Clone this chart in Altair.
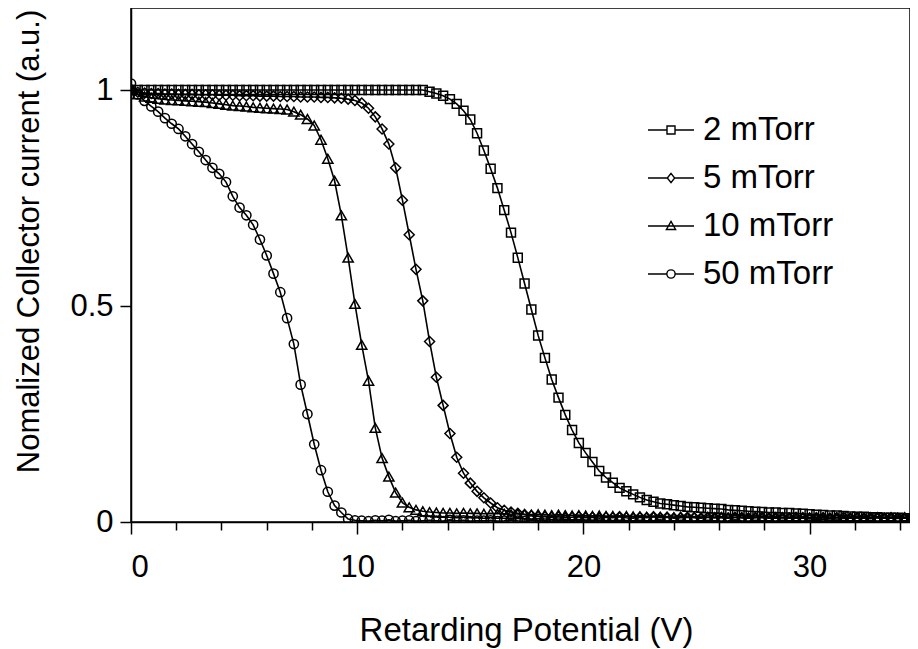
import altair as alt
import pandas as pd

# Retarding potential grid (V)
x_vals = [
    0.0, 0.3, 0.6, 0.9, 1.2, 1.5, 1.8, 2.1, 2.4, 2.7,
    3.0, 3.3, 3.6, 3.9, 4.2, 4.5, 4.8, 5.1, 5.4, 5.7,
    6.0, 6.3, 6.6, 6.9, 7.2, 7.5, 7.8, 8.1, 8.4, 8.7,
    9.0, 9.3, 9.6, 9.9, 10.2, 10.5, 10.8, 11.1, 11.4, 11.7,
    12.0, 12.3, 12.6, 12.9, 13.2, 13.5, 13.8, 14.1, 14.4, 14.7,
    15.0, 15.3, 15.6, 15.9, 16.2, 16.5, 16.8, 17.1, 17.4, 17.7,
    18.0, 18.3, 18.6, 18.9, 19.2, 19.5, 19.8, 20.1, 20.4, 20.7,
    21.0, 21.3, 21.6, 21.9, 22.2, 22.5, 22.8, 23.1, 23.4, 23.7,
    24.0, 24.3, 24.6, 24.9, 25.2, 25.5, 25.8, 26.1, 26.4, 26.7,
    27.0, 27.3, 27.6, 27.9, 28.2, 28.5, 28.8, 29.1, 29.4, 29.7,
    30.0, 30.3, 30.6, 30.9, 31.2, 31.5, 31.8, 32.1, 32.4, 32.7,
    33.0, 33.3, 33.6, 33.9, 34.2, 34.5,
]

series_names = ["2 mTorr", "5 mTorr", "10 mTorr", "50 mTorr"]

y_2mtorr = [
    1.0, 1.0, 1.0, 1.0, 1.0, 1.0, 1.0, 1.0, 1.0, 1.0, 1.0,
    1.0, 1.0, 1.0, 1.0, 1.0, 1.0, 1.0, 1.0, 1.0, 1.0, 1.0,
    1.0, 1.0, 1.0, 1.0, 1.0, 1.0, 1.0, 1.0, 1.0, 1.0, 1.0,
    1.0, 1.0, 1.0, 1.0, 1.0, 1.0, 1.0, 1.0, 1.0, 1.0, 1.0,
    0.996, 0.992, 0.987, 0.979, 0.968, 0.952, 0.932, 0.900, 0.860, 0.818,
    0.773, 0.722, 0.670, 0.612, 0.552, 0.492, 0.432, 0.380, 0.330, 0.288,
    0.248, 0.213, 0.183, 0.160, 0.139, 0.118, 0.103, 0.091, 0.079, 0.071,
    0.064, 0.057, 0.051, 0.047, 0.043, 0.041, 0.039, 0.037, 0.035, 0.034,
    0.033, 0.032, 0.031, 0.030, 0.028, 0.027, 0.026, 0.025, 0.024, 0.023,
    0.022, 0.022, 0.021, 0.021, 0.020, 0.019, 0.018, 0.017, 0.016, 0.015,
    0.015, 0.014, 0.013, 0.012, 0.012, 0.011, 0.011, 0.010, 0.010, 0.010,
    0.009, 0.009,
]

y_5mtorr = [
    1.0, 0.995, 0.993, 0.992, 0.992, 0.991, 0.991, 0.990, 0.990, 0.990,
    0.989, 0.989, 0.989, 0.988, 0.988, 0.988, 0.987, 0.987, 0.987, 0.986,
    0.986, 0.986, 0.985, 0.985, 0.985, 0.984, 0.984, 0.984, 0.983, 0.983,
    0.982, 0.981, 0.979, 0.976, 0.970, 0.958, 0.938, 0.910, 0.875, 0.820,
    0.745, 0.665, 0.585, 0.512, 0.418, 0.335, 0.270, 0.205, 0.150, 0.113,
    0.090, 0.071, 0.056, 0.044, 0.033, 0.027, 0.023, 0.020, 0.017, 0.015,
    0.013,
    0.012, 0.011, 0.012, 0.010, 0.011, 0.012, 0.010, 0.011, 0.009, 0.011,
    0.010, 0.012, 0.010, 0.009, 0.011, 0.010, 0.012, 0.010, 0.011, 0.009,
    0.010, 0.011, 0.010, 0.009, 0.011, 0.010, 0.010, 0.009, 0.011, 0.010,
    0.009, 0.010, 0.011, 0.009, 0.010, 0.010, 0.009, 0.011, 0.010, 0.009,
    0.010, 0.010, 0.009, 0.010, 0.011, 0.009, 0.010, 0.009, 0.010, 0.010,
    0.009, 0.010, 0.009, 0.010, 0.009,
]

y_10mtorr = [
    1.0, 0.990, 0.985, 0.982, 0.980, 0.978, 0.977, 0.976, 0.975, 0.974,
    0.973, 0.972, 0.970, 0.968, 0.966, 0.964, 0.963, 0.962, 0.960, 0.959,
    0.958, 0.957, 0.956, 0.955,
    0.950, 0.943, 0.933, 0.918, 0.885, 0.841, 0.790, 0.710, 0.612, 0.505,
    0.410, 0.327, 0.218, 0.148, 0.105, 0.068, 0.045, 0.034, 0.028, 0.025,
    0.023, 0.022, 0.021,
    0.021, 0.020, 0.021, 0.020, 0.020, 0.019, 0.020, 0.019, 0.019, 0.018,
    0.019, 0.018, 0.017, 0.018, 0.017, 0.016, 0.017, 0.016, 0.015, 0.016,
    0.015, 0.014, 0.015, 0.014, 0.014, 0.013, 0.014, 0.013, 0.013, 0.012,
    0.013, 0.012, 0.012, 0.011, 0.012, 0.011, 0.012, 0.011, 0.011, 0.010,
    0.011, 0.010, 0.011, 0.010, 0.010, 0.011, 0.010, 0.010, 0.009, 0.010,
    0.010, 0.009, 0.010, 0.010, 0.009, 0.010, 0.009, 0.010, 0.009, 0.009,
    0.010, 0.009, 0.009, 0.010, 0.009, 0.009, 0.008, 0.009, 0.009,
]

y_50mtorr = [
    1.015, 0.990, 0.975, 0.962, 0.950, 0.935, 0.922, 0.910, 0.893, 0.875,
    0.857, 0.838, 0.820, 0.806, 0.787, 0.754, 0.728, 0.710, 0.688, 0.654,
    0.617, 0.575, 0.532, 0.472, 0.412, 0.318, 0.250, 0.180, 0.120, 0.070,
    0.038, 0.022, 0.007, 0.004,
    0.003, 0.002, 0.004, 0.003, 0.005, 0.002, 0.003, 0.004, 0.002, 0.003,
    0.004, 0.003, 0.002, 0.005, 0.003, 0.004, 0.002, 0.003, 0.003, 0.004,
    0.002, 0.003, 0.005, 0.003, 0.002, 0.004, 0.003, 0.003, 0.002, 0.004,
    0.003, 0.005, 0.002, 0.003, 0.004, 0.003, 0.002, 0.003, 0.004, 0.003,
    0.002, 0.004, 0.003, 0.003, 0.005, 0.002, 0.003, 0.004, 0.003, 0.002,
    0.003, 0.004, 0.003, 0.002, 0.003, 0.005, 0.003, 0.002, 0.004, 0.003,
    0.003, 0.002, 0.004, 0.003, 0.003, 0.002, 0.004, 0.003, 0.002, 0.003,
    0.004, 0.003, 0.002, 0.003, 0.003, 0.004, 0.002, 0.003, 0.003, 0.002,
    0.003, 0.004,
]

x_ticks = [0, 2, 4, 6, 8, 10, 12, 14, 16, 18, 20, 22, 24, 26, 28, 30, 32, 34]
y_ticks = [0, 0.5, 1]

all_series = [y_2mtorr, y_5mtorr, y_10mtorr, y_50mtorr]
rows = []
for name, ys in zip(series_names, all_series):
    assert len(ys) == len(x_vals), (name, len(ys))
    for xv, yv in zip(x_vals, ys):
        rows.append({"V": xv, "I": yv, "series": name})
df = pd.DataFrame(rows)

FONT = "Liberation Sans"
XMAX = 34.44
x_scale = alt.Scale(domain=[0, XMAX], nice=False, zero=False)
y_scale = alt.Scale(domain=[0, 1.19], nice=False, zero=False)

x_axis = alt.Axis(
    values=x_ticks, orient="bottom",
    tickSize={"condition": {"test": "datum.value % 10 === 0", "value": 12}, "value": 8},
    labelExpr="datum.value % 10 === 0 ? datum.label : ''",
    labelPadding=18, labelFontSize=31,
    title="Retarding Potential (V)", titleFontSize=33, titleX=395, titleY=118,
    titleBaseline="alphabetic", titleAnchor="middle", titleAlign="center",
)
y_axis = alt.Axis(
    values=y_ticks, orient="left", format="~g", tickSize=11, labelPadding=7,
    labelFontSize=31,
    title="Nomalized Collector current (a.u.)", titleFontSize=31,
    titleAngle=270, titleX=-93, titleY=233, titleBaseline="alphabetic",
    titleAlign="center",
)

x_enc = alt.X("V:Q", scale=x_scale, axis=x_axis)
y_enc = alt.Y("I:Q", scale=y_scale, axis=y_axis)

base = alt.Chart(df)

lines = base.mark_line(color="black", strokeWidth=1.6, clip=True).encode(
    x=x_enc, y=y_enc, detail="series:N", order="V:Q",
)

shapes = {"2 mTorr": ("square", 80), "5 mTorr": ("diamond", 100),
          "10 mTorr": ("triangle-up", 105), "50 mTorr": ("circle", 85)}

point_layers = []
for name in series_names:
    shp, sz = shapes[name]
    pl = base.transform_filter(alt.datum.series == name).mark_point(
        shape=shp, size=sz, filled=False, stroke="black", strokeWidth=1.5,
        opacity=1, clip=True,
    ).encode(x=x_enc, y=y_enc)
    point_layers.append(pl)

legend_paths = [
    "M-1,0H-0.174M0.174,0H1M-0.174,-0.174H0.174V0.174H-0.174Z",
    "M-1,0H-0.16M0.16,0H1M0,-0.2L0.16,0L0,0.2L-0.16,0Z",
    "M-1,0H1M0,-0.2L0.2,0.15L-0.2,0.15Z",
    "M-1,0H-0.18M0.18,0H1M-0.18,0A0.18,0.18 0 1,1 0.18,0A0.18,0.18 0 1,1 -0.18,0Z",
]

legend_layer = base.transform_filter(alt.datum.V > XMAX).mark_point(
    filled=False, stroke="black", strokeWidth=1.4, opacity=1, clip=True,
).encode(
    x=x_enc, y=y_enc,
    shape=alt.Shape(
        "series:N",
        scale=alt.Scale(domain=series_names, range=legend_paths),
        legend=alt.Legend(
            title=None, orient="none", legendX=516, legendY=98,
            symbolSize=2116, symbolStrokeWidth=1.4, symbolStrokeColor="black",
            symbolFillColor="transparent", labelFontSize=33, labelFont=FONT,
            labelColor="black", labelOffset=8, rowPadding=7, padding=0,
            labelLimit=300,
        ),
    ),
)

chart = alt.layer(lines, *point_layers, legend_layer).properties(
    width=779, height=514,
    autosize=alt.AutoSizeParams(type="none"),
    padding={"left": 123, "top": 0, "right": 0, "bottom": 127},
    background="white",
).configure_view(
    stroke="black", strokeWidth=1.5,
).configure_axis(
    grid=False, domainColor="black", domainWidth=1.5, tickColor="black",
    tickWidth=1.5, labelColor="black", titleColor="black", labelFont=FONT,
    titleFont=FONT, titleFontWeight="normal",
)

chart.save("out.html", embed_options={"renderer": "svg", "actions": False})
